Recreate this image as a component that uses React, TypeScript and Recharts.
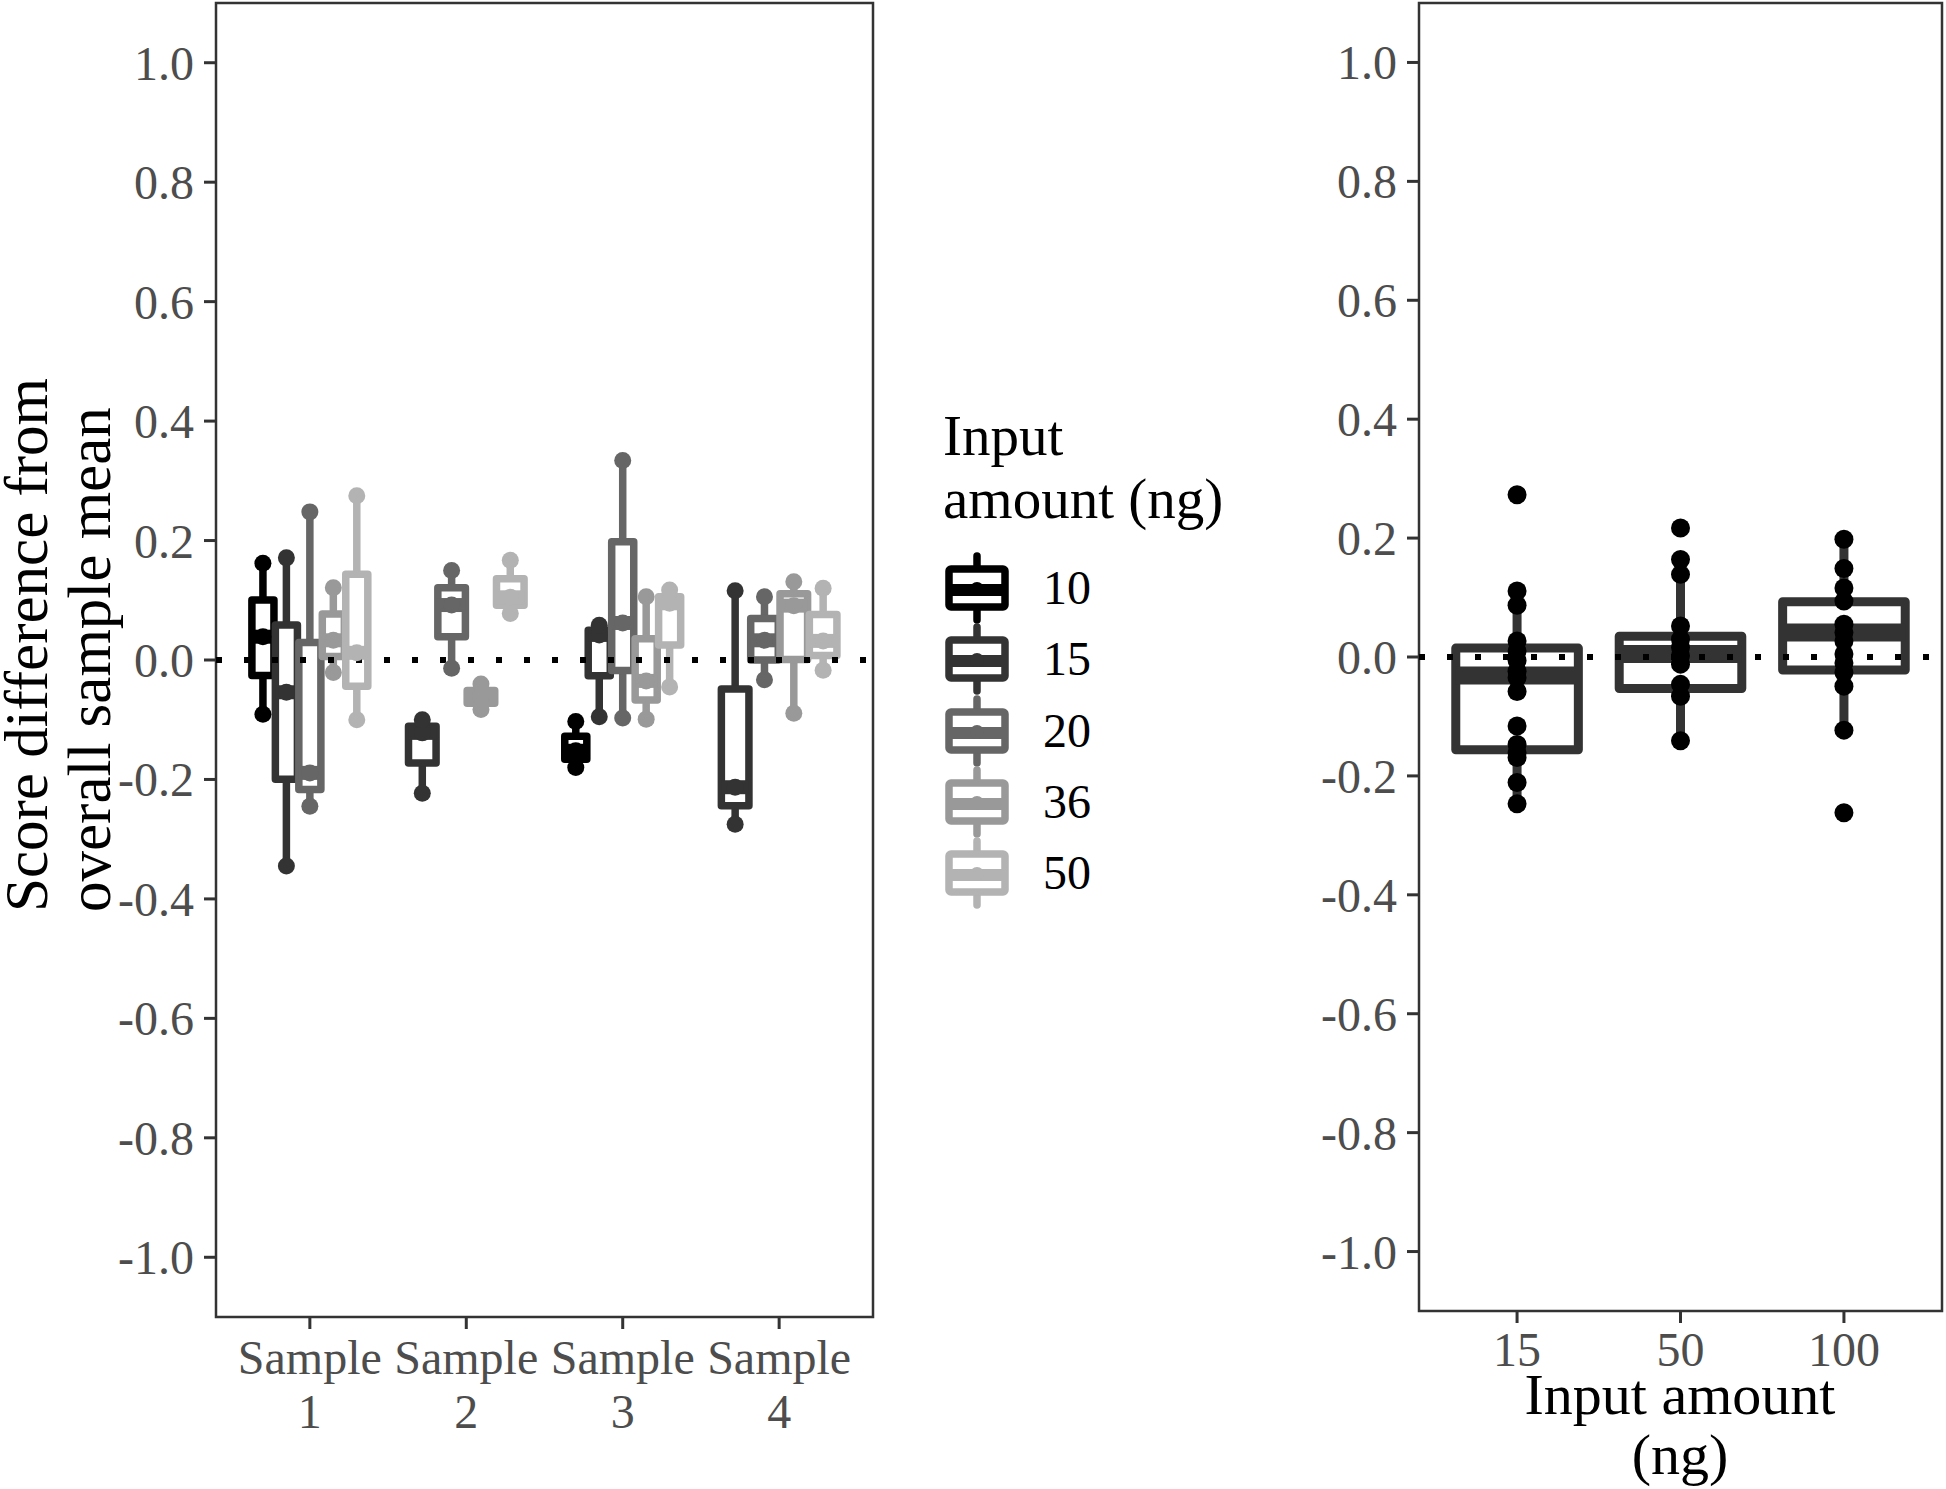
import React from "react";
import {
  ComposedChart,
  XAxis,
  YAxis,
  Scatter,
  ReferenceArea,
  ReferenceLine,
} from "recharts";

const FONT = "'Liberation Serif', 'Times New Roman', serif";
const TICK_GREY = "#4d4d4d";
const AXIS_GREY = "#333333";

// ---- left panel: three replicate scores per sample and input amount (null = not run)
const samples = [1, 2, 3, 4];
const inputAmounts = ["10", "15", "20", "36", "50"];
const inputColors = ["#000000", "#333333", "#666666", "#999999", "#b3b3b3"];

const sample1 = [
  [-0.091, 0.039, 0.162],
  [-0.345, -0.054, 0.171],
  [-0.245, -0.189, 0.248],
  [-0.021, 0.033, 0.121],
  [-0.1, 0.012, 0.275],
];
const sample2 = [
  null,
  [-0.223, -0.122, -0.1],
  [-0.014, 0.092, 0.15],
  [-0.083, -0.062, -0.04],
  [0.078, 0.105, 0.167],
];
const sample3 = [
  [-0.18, -0.152, -0.103],
  [-0.095, 0.042, 0.058],
  [-0.097, 0.062, 0.334],
  [-0.099, -0.035, 0.106],
  [-0.045, 0.095, 0.117],
];
const sample4 = [
  null,
  [-0.275, -0.213, 0.116],
  [-0.033, 0.033, 0.106],
  [-0.089, 0.091, 0.131],
  [-0.017, 0.032, 0.12],
];

// ---- right panel: pooled by input amount
const poolCats = ["15", "50", "100"];
const poolLow = [-0.247, -0.141, -0.123];
const poolQ1 = [-0.156, -0.053, -0.022];
const poolMedian = [-0.031, 0.005, 0.041];
const poolQ3 = [0.015, 0.035, 0.093];
const poolHigh = [0.111, 0.164, 0.198];
const pool15 = [0.273, 0.111, 0.087, 0.027, 0.01, -0.006, -0.024, -0.035, -0.058, -0.116, -0.147, -0.161, -0.169, -0.211, -0.247];
const pool50 = [0.217, 0.164, 0.139, 0.052, 0.03, 0.016, 0.002, -0.012, -0.046, -0.066, -0.141];
const pool100 = [0.198, 0.149, 0.116, 0.094, 0.055, 0.041, 0.027, 0.005, -0.01, -0.026, -0.049, -0.123, -0.262];

const yTicks = [-1, -0.8, -0.6, -0.4, -0.2, 0, 0.2, 0.4, 0.6, 0.8, 1];
const DODGE = 0.75;

type Box = { x: number; half: number; color: string; lo: number; q1: number; med: number; q3: number; hi: number };

function quantile(sorted: number[], p: number) {
  const h = (sorted.length - 1) * p;
  const i = Math.floor(h);
  const j = Math.ceil(h);
  return sorted[i] + (h - i) * (sorted[j] - sorted[i]);
}

function statsFrom(values: number[]) {
  const s = [...values].sort((a, b) => a - b);
  const q1 = quantile(s, 0.25);
  const med = quantile(s, 0.5);
  const q3 = quantile(s, 0.75);
  const iqr = q3 - q1;
  const inside = s.filter((v) => v >= q1 - 1.5 * iqr && v <= q3 + 1.5 * iqr);
  return { lo: inside[0], q1, med, q3, hi: inside[inside.length - 1] };
}

// dodge groups inside each sample, like position_dodge
const sampleScores = [sample1, sample2, sample3, sample4];
const leftBoxes: Box[] = [];
const leftPoints: { x: number; y: number }[][] = inputAmounts.map(() => []);
samples.forEach((s, si) => {
  const present = sampleScores[si].map((v, g) => (v ? g : -1)).filter((g) => g >= 0);
  const slot = DODGE / present.length;
  present.forEach((g, k) => {
    const x = s - DODGE / 2 + slot * (k + 0.5);
    const vals = sampleScores[si][g] as number[];
    leftBoxes.push({ x, half: slot * 0.47, color: inputColors[g], ...statsFrom(vals) });
    vals.forEach((v) => leftPoints[g].push({ x, y: v }));
  });
});

const rightBoxes: Box[] = poolCats.map((_, i) => ({
  x: i + 1,
  half: DODGE / 2,
  color: AXIS_GREY,
  lo: poolLow[i],
  q1: poolQ1[i],
  med: poolMedian[i],
  q3: poolQ3[i],
  hi: poolHigh[i],
}));
const rightPoints = [pool15, pool50, pool100].flatMap((vals, i) => vals.map((v) => ({ x: i + 1, y: v })));

function boxMarks(b: Box, i: number, lw: number, medW: number, prefix: string) {
  const z = 100 + i * 4;
  return [
    <ReferenceLine
      key={`${prefix}wu${i}`}
      segment={[{ x: b.x, y: b.q3 }, { x: b.x, y: b.hi }]}
      stroke={b.color}
      strokeWidth={lw}
      zIndex={z}
    />,
    <ReferenceLine
      key={`${prefix}wl${i}`}
      segment={[{ x: b.x, y: b.lo }, { x: b.x, y: b.q1 }]}
      stroke={b.color}
      strokeWidth={lw}
      zIndex={z}
    />,
    <ReferenceArea
      key={`${prefix}bx${i}`}
      x1={b.x - b.half}
      x2={b.x + b.half}
      y1={b.q1}
      y2={b.q3}
      fill="#ffffff"
      fillOpacity={1}
      stroke={b.color}
      strokeWidth={lw}
      strokeLinejoin="round"
      zIndex={z + 1}
    />,
    <ReferenceLine
      key={`${prefix}md${i}`}
      segment={[{ x: b.x - b.half, y: b.med }, { x: b.x + b.half, y: b.med }]}
      stroke={b.color}
      strokeWidth={medW}
      zIndex={z + 2}
    />,
  ];
}

const dot = (r: number, fill: string) => (p: any) => <circle cx={p.cx} cy={p.cy} r={r} fill={fill} />;

function SampleTick(props: any) {
  const { x, y, payload } = props;
  return (
    <text x={x} y={y} textAnchor="middle" fill={TICK_GREY} fontSize={48} fontFamily={FONT}>
      <tspan x={x} dy={45}>Sample</tspan>
      <tspan x={x} dy={54}>{payload.value}</tspan>
    </text>
  );
}

const yAxisProps = {
  type: "number" as const,
  dataKey: "y",
  domain: [-1.1, 1.1],
  ticks: yTicks,
  allowDataOverflow: true,
  tickSize: 12,
  tickMargin: 10,
  axisLine: false,
  tickLine: { stroke: AXIS_GREY, strokeWidth: 3 },
  tick: { fill: TICK_GREY, fontSize: 48, fontFamily: FONT },
  tickFormatter: (v: number) => v.toFixed(1),
};

function LeftPanel() {
  return (
    <ComposedChart width={880} height={1489} margin={{ top: 3, right: 7, bottom: 0, left: 0 }}>
      <XAxis
        type="number"
        dataKey="x"
        domain={[0.4, 4.6]}
        ticks={samples}
        allowDataOverflow
        interval={0}
        height={172}
        tickSize={12}
        tickMargin={0}
        axisLine={false}
        tickLine={{ stroke: AXIS_GREY, strokeWidth: 3 }}
        tick={(p: any) => <SampleTick {...p} />}
      />
      <YAxis {...yAxisProps} width={216} />
      <ReferenceArea x1={0.4} x2={4.6} y1={-1.1} y2={1.1} fill="none" stroke={AXIS_GREY} strokeWidth={2.5} zIndex={50} />
      {leftBoxes.flatMap((b, i) => boxMarks(b, i, 7.5, 14, "L"))}
      <ReferenceLine y={0} stroke="#000000" strokeWidth={6} strokeDasharray="6 22" zIndex={300} />
      {leftPoints.map((pts, g) => (
        <Scatter key={g} data={pts} fill={inputColors[g]} shape={dot(8.5, inputColors[g])} isAnimationActive={false} />
      ))}
    </ComposedChart>
  );
}

function RightPanel() {
  return (
    <ComposedChart width={646} height={1489} margin={{ top: 3, right: 4, bottom: 0, left: 0 }}>
      <XAxis
        type="number"
        dataKey="x"
        domain={[0.4, 3.6]}
        ticks={[1, 2, 3]}
        allowDataOverflow
        interval={0}
        height={178}
        tickSize={12}
        tickMargin={9}
        axisLine={false}
        tickLine={{ stroke: AXIS_GREY, strokeWidth: 3 }}
        tick={{ fill: TICK_GREY, fontSize: 48, fontFamily: FONT }}
        tickFormatter={(v: number) => poolCats[v - 1]}
      />
      <YAxis {...yAxisProps} width={119} />
      <ReferenceArea x1={0.4} x2={3.6} y1={-1.1} y2={1.1} fill="none" stroke={AXIS_GREY} strokeWidth={2.5} zIndex={50} />
      {rightBoxes.flatMap((b, i) => boxMarks(b, i, 9, 18, "R"))}
      <ReferenceLine y={0} stroke="#000000" strokeWidth={6} strokeDasharray="6 22" zIndex={300} />
      <Scatter data={rightPoints} fill="#000000" shape={dot(9.5, "#000000")} isAnimationActive={false} />
    </ComposedChart>
  );
}

function LegendKey({ cy, color }: { cy: number; color: string }) {
  const cx = 977;
  return (
    <g>
      <line x1={cx} y1={cy - 32} x2={cx} y2={cy + 32} stroke={color} strokeWidth={7.5} strokeLinecap="round" />
      <rect x={cx - 28} y={cy - 19} width={56} height={38} rx={2} fill="#ffffff" stroke={color} strokeWidth={7.5} />
      <line x1={cx - 28} y1={cy + 2} x2={cx + 28} y2={cy + 2} stroke={color} strokeWidth={12} />
      <circle cx={cx} cy={cy + 1} r={7} fill={color} />
    </g>
  );
}

function Overlay() {
  const keyY = [588, 659, 731, 802, 873];
  return (
    <svg width={1946} height={1489} style={{ position: "absolute", left: 0, top: 0, pointerEvents: "none" }} fontFamily={FONT}>
      <text transform="translate(47, 912) rotate(-90)" fontSize={61} fill="#000">Score difference from</text>
      <text transform="translate(110, 912) rotate(-90)" fontSize={61} fill="#000">overall sample mean</text>
      <text x={943} y={455} fontSize={57} fill="#000">Input</text>
      <text x={943} y={518} fontSize={57} fill="#000">amount (ng)</text>
      {inputAmounts.map((lab, g) => (
        <g key={lab}>
          <LegendKey cy={keyY[g]} color={inputColors[g]} />
          <text x={1043} y={keyY[g] + 16} fontSize={48} fill="#000">{lab}</text>
        </g>
      ))}
      <text x={1680} y={1414} fontSize={58} textAnchor="middle" fill="#000">Input amount</text>
      <text x={1680} y={1474} fontSize={58} textAnchor="middle" fill="#000">(ng)</text>
    </svg>
  );
}

export default function App() {
  return (
    <div style={{ position: "absolute", left: 0, top: 0, width: 1946, height: 1489, background: "#fff", fontFamily: FONT }}>
      <div style={{ position: "absolute", left: 0, top: 0 }}>
        <LeftPanel />
      </div>
      <div style={{ position: "absolute", left: 1300, top: 0 }}>
        <RightPanel />
      </div>
      <Overlay />
    </div>
  );
}
